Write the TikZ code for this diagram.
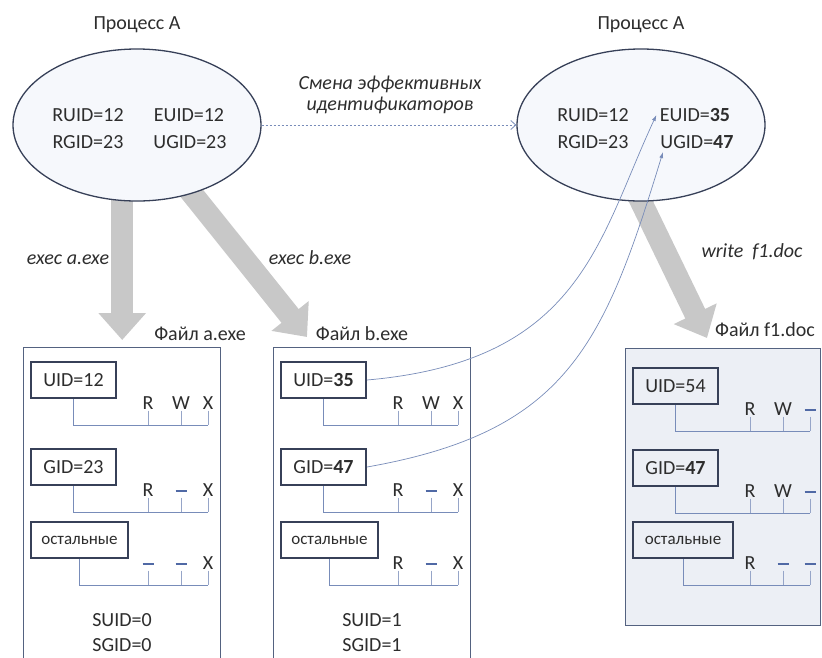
\documentclass[tikz,border=0pt]{standalone}
\usepackage{fontspec}
\setmainfont{Carlito}
\usetikzlibrary{shapes.geometric,arrows.meta,backgrounds,calc,positioning}

\definecolor{inkgray}{RGB}{45,45,45}
\definecolor{frameblue}{RGB}{84,98,128}
\definecolor{boxedge}{RGB}{55,64,88}
\definecolor{linkblue}{RGB}{120,140,185}
\definecolor{dashblue}{RGB}{80,105,165}
\definecolor{tickblue}{RGB}{150,165,200}
\definecolor{arrowgray}{RGB}{200,200,200}
\definecolor{procfill}{RGB}{246,248,252}
\definecolor{docfill}{RGB}{236,239,245}

\tikzset{
  proc/.style={ellipse, draw=boxedge, line width=1.3pt, fill=procfill,
    minimum width=248pt, minimum height=152pt, inner sep=0pt},
  filebox/.style={draw=frameblue, line width=1.4pt, fill=white, inner sep=0pt,
    anchor=north west},
  idbox/.style={draw=boxedge, line width=2pt, minimum height=36pt, inner sep=2pt,
    anchor=west},
  permletter/.style={text height=13pt, text depth=0pt, inner sep=1pt},
  permline/.style={draw=linkblue, line width=0.8pt},
  permtick/.style={draw=tickblue, line width=0.6pt},
  bigarrow/.style={draw=arrowgray, line width=22pt, -{Triangle[width=46pt,length=27pt]}},
  idlink/.style={draw=linkblue, line width=0.7pt},
  actlabel/.style={font=\itshape\fontsize{20}{21}\selectfont}
}

\begin{document}
\begin{tikzpicture}[x=1pt, y=-1pt, font=\fontsize{20}{24}\selectfont, text=inkgray]
\def\nop{\textcolor{dashblue}{\rule[5pt]{11pt}{1.4pt}}}
\def\othfont{\fontsize{17}{20}\selectfont}
% one row of rights: id box, three letters, bracket
\def\permrow#1#2#3#4#5#6#7#8{%
  \node[idbox, minimum width=#5] (#1) at (#2+7,#3) {#4};
  \node[permletter] (#1r) at (#2+125,#3+23) {#6};
  \node[permletter] (#1w) at (#2+158,#3+23) {#7};
  \node[permletter] (#1x) at (#2+185,#3+23) {#8};
  \coordinate (#1e) at (#2+185,#3+45);
  \draw[permline] (#1.south) |- (#1e);
  \foreach \p in {r,w,x} \draw[permtick] (#1\p.south) -- (#1\p.south |- #1e);
}
\clip (0,0) rectangle (822,657);

% processes
\node[proc] (pA) at (137,125) {};
\node[proc] (pB) at (641,125) {};
\node (tA) at (137,25) {Процесс А};
\node (tB) at (641,25) {Процесс А};

\node (pARUID) at (88,115) {RUID=12};
\node (pAEUID) at (189,115) {EUID=12};
\node (pARGID) at (88,142) {RGID=23};
\node (pAUGID) at (190,142) {UGID=23};

\node (pBRUID) at (593,115) {RUID=12};
\node (pBEUID) at (695,115) {EUID=\textbf{35}};
\node (pBRGID) at (593,142) {RGID=23};
\node (pBUGID) at (697,142) {UGID=\textbf{47}};

\draw[draw=linkblue, line width=0.8pt, dash pattern=on 2pt off 2pt,
  -{Straight Barb[length=5pt,width=9pt]}] (pA) -- (pB);
\node[actlabel, align=center] (chg) at (390,95) {Смена эффективных\\идентификаторов};

% files
\node[filebox, minimum width=197pt, minimum height=340pt] (fa) at (23,347) {};
\node[filebox, minimum width=197pt, minimum height=340pt] (fb) at (273,347) {};
\node[filebox, fill=docfill, minimum width=195pt, minimum height=277pt] (fc) at (625,348) {};
\node (fatitle) at (200,334) {Файл a.exe};
\node (fbtitle) at (362,334) {Файл b.exe};
\node (fctitle) at (765,330) {Файл f1.doc};

\permrow{aUID}{23}{380}{UID=12}{85pt}{R}{W}{X}
\permrow{aGID}{23}{467}{GID=23}{85pt}{R}{\nop}{X}
\permrow{aOth}{23}{540}{\othfont остальные}{97pt}{\nop}{\nop}{X}

\permrow{bUID}{273}{380}{UID=\textbf{35}}{85pt}{R}{W}{X}
\permrow{bGID}{273}{467}{GID=\textbf{47}}{85pt}{R}{\nop}{X}
\permrow{bOth}{273}{540}{\othfont остальные}{97pt}{R}{\nop}{X}

\permrow{cUID}{625}{386}{UID=54}{85pt}{R}{W}{\nop}
\permrow{cGID}{625}{468}{GID=\textbf{47}}{85pt}{R}{W}{\nop}
\permrow{cOth}{625}{540}{\othfont остальные}{100pt}{R}{\nop}{\nop}

\node (aSUID) at (122,620) {SUID=0};
\node (aSGID) at (122,645) {SGID=0};
\node (bSUID) at (372,620) {SUID=1};
\node (bSGID) at (372,645) {SGID=1};

% system calls
\coordinate (tipC) at ([xshift=82pt,yshift=10pt]fc.north west);
\begin{scope}[on background layer]
\draw[bigarrow] (fa.north |- pA.center) -- ([yshift=7pt]fa.north);
\draw[bigarrow] (pA.center) -- ([xshift=34pt,yshift=10pt]fb.north west);
\draw[bigarrow] ($(pB.south)!-0.3!(tipC)$) -- (tipC);
\end{scope}
\node[actlabel] (execa) at (68,260) {exec a.exe};
\node[actlabel] (execb) at (310,258) {exec b.exe};
\node[actlabel] (wrc) at (752,252) {write~ f1.doc};

% new effective ids
\draw[idlink, -{Latex[length=6pt,width=4pt]}] (bUID.east)
  to[out=5, in=-115, out looseness=1.4, in looseness=0.9] (pBEUID.west);
\draw[idlink, -{Latex[length=6pt,width=4pt]}] (bGID.east)
  to[out=10, in=-107, looseness=1.2] ([xshift=6pt]pBUGID.south west);
\end{tikzpicture}
\end{document}
